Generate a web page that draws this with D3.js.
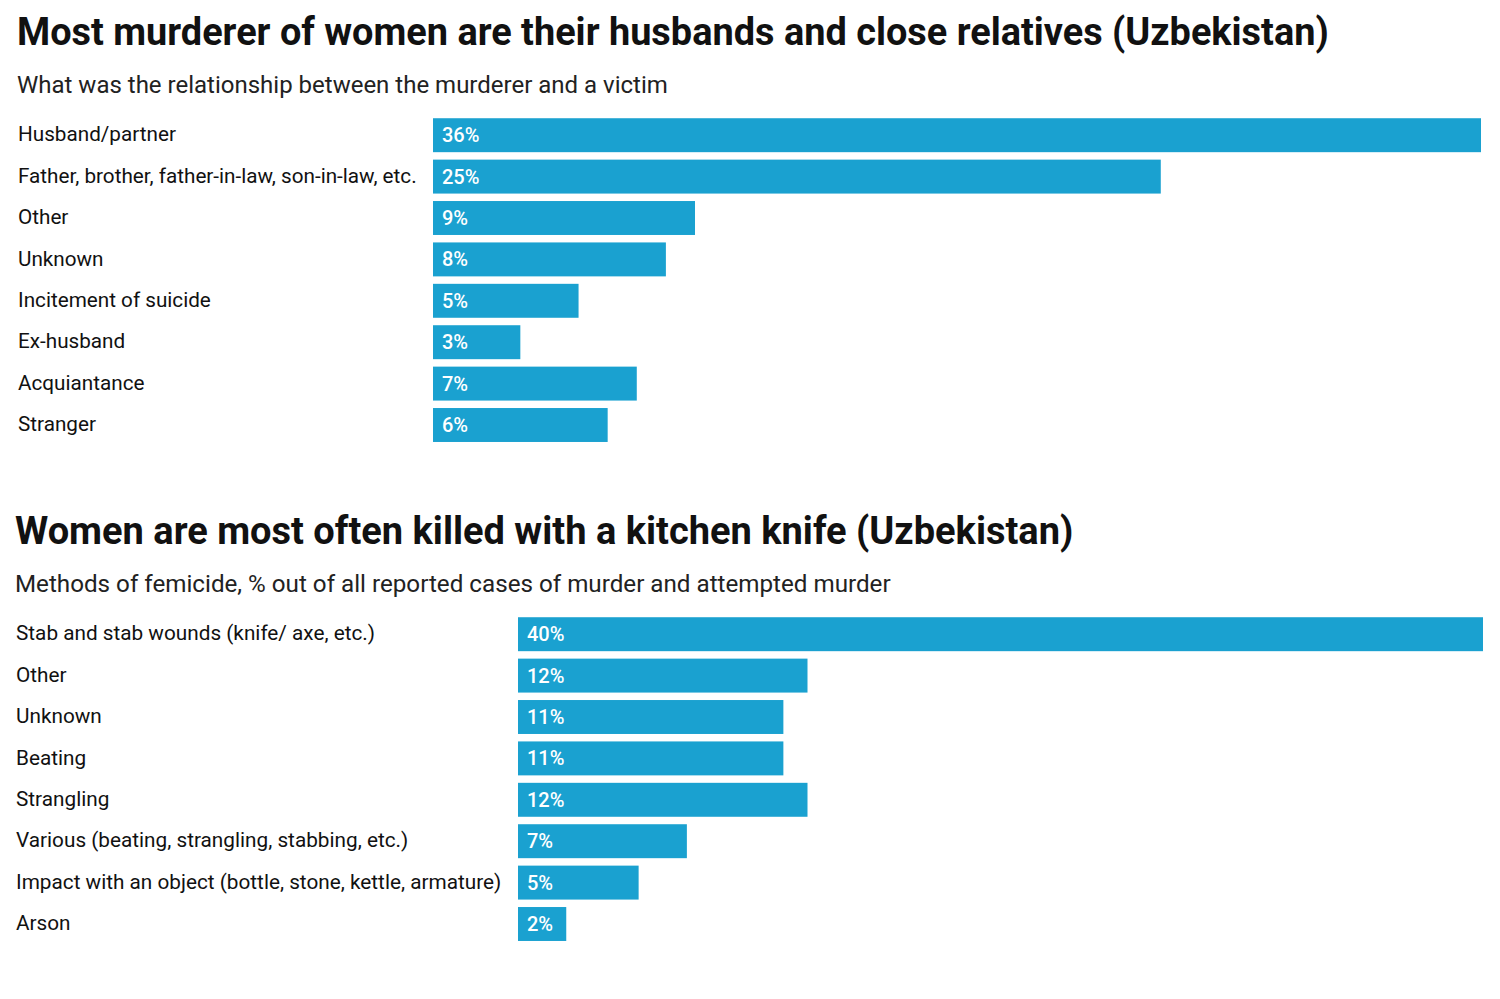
<!DOCTYPE html>
<html><head><meta charset="utf-8">
<script src="https://cdn.jsdelivr.net/npm/d3@7"></script>
<style>
body{margin:0;background:#fff;}
svg{display:block;font-family:Roboto, sans-serif;}
</style></head>
<body><svg id="c" width="1500" height="999"></svg>
<script>
const title1 = "Most murderer of women are their husbands and close relatives (Uzbekistan)";
const subtitle1 = "What was the relationship between the murderer and a victim";
const categories1 = ["Husband/partner","Father, brother, father-in-law, son-in-law, etc.","Other","Unknown","Incitement of suicide","Ex-husband","Acquiantance","Stranger"];
const values1 = [36,25,9,8,5,3,7,6];

const title2 = "Women are most often killed with a kitchen knife (Uzbekistan)";
const subtitle2 = "Methods of femicide, % out of all reported cases of murder and attempted murder";
const categories2 = ["Stab and stab wounds (knife/ axe, etc.)","Other","Unknown","Beating","Strangling","Various (beating, strangling, stabbing, etc.)","Impact with an object (bottle, stone, kettle, armature)","Arson"];
const values2 = [40,12,11,11,12,7,5,2];

const svg = d3.select("#c");
const color = "#1aa1d0";

function chart(cfg){
  const g = svg.append("g");
  g.append("text").attr("x",cfg.tx).attr("y",cfg.titleY).attr("font-size",cfg.titleSize).attr("font-weight",700).attr("fill","#111").text(cfg.title);
  g.append("text").attr("x",cfg.tx).attr("y",cfg.subY).attr("font-size",cfg.subSize).attr("fill","#222").text(cfg.sub);
  const x = d3.scaleLinear().domain([0,d3.max(cfg.values)]).range([cfg.x0,cfg.x1]);
  const y = d3.scaleBand().domain(cfg.cats).range([cfg.y0,cfg.y0+cfg.pitch*cfg.cats.length]).paddingInner(0.18).paddingOuter(0.09);
  g.selectAll("rect").data(cfg.cats).join("rect")
    .attr("x",x(0)).attr("y",d=>y(d)).attr("height",y.bandwidth())
    .attr("width",(d,i)=>x(cfg.values[i])-x(0)).attr("fill",color);
  g.selectAll("text.lab").data(cfg.cats).join("text").attr("class","lab")
    .attr("x",cfg.lx).attr("y",d=>y(d)+y.bandwidth()/2-1).attr("dy","0.35em")
    .attr("font-size",cfg.labSize).attr("fill","#111").text(d=>d);
  g.selectAll("text.val").data(cfg.cats).join("text").attr("class","val")
    .attr("x",x(0)+9).attr("y",d=>y(d)+y.bandwidth()/2).attr("dy","0.35em")
    .attr("font-size",20).attr("font-weight",500).attr("fill","#fff").text((d,i)=>cfg.values[i]+"%");
}
chart({title:title1,sub:subtitle1,cats:categories1,values:values1,tx:17,lx:18,titleY:45,titleSize:37.9,subY:93,subSize:24,labSize:20.7,x0:433,x1:1481,y0:114.5,pitch:41.4});
chart({title:title2,sub:subtitle2,cats:categories2,values:values2,tx:15,lx:16,titleY:544,titleSize:38,subY:592,subSize:24.2,labSize:20.75,x0:518,x1:1483,y0:613.5,pitch:41.4});
</script></body></html>
